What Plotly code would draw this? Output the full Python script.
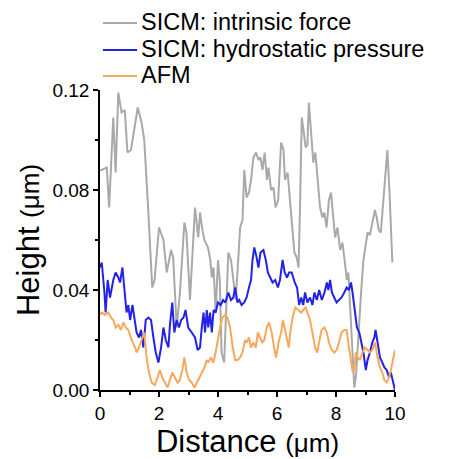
import plotly.graph_objects as go

# ---------------- data ----------------
gray_x = [0.0, 0.06, 0.23, 0.31, 0.45, 0.53, 0.62, 0.73, 0.84, 0.93, 1.05, 1.28, 1.41, 1.50, 1.64, 1.77, 1.85,
          2.0, 2.15, 2.26, 2.41, 2.48, 2.6, 2.71, 2.86, 2.93, 3.05, 3.13, 3.22, 3.33, 3.39, 3.47, 3.54, 3.66,
          3.74, 3.79, 3.85, 3.92, 4.0, 4.06, 4.12, 4.21, 4.29, 4.35, 4.44, 4.52, 4.6, 4.67, 4.75, 4.83, 4.89,
          4.97, 5.05, 5.12, 5.2, 5.29, 5.37, 5.44, 5.51, 5.58, 5.66, 5.71, 5.8, 5.88, 5.95, 6.04, 6.14, 6.22,
          6.27, 6.36, 6.44, 6.5, 6.59, 6.67, 6.73, 6.78, 6.84, 6.93, 6.97, 7.03, 7.08, 7.15, 7.23, 7.3, 7.38,
          7.46, 7.54, 7.6, 7.68, 7.76, 7.83, 7.9, 7.97, 8.05, 8.14, 8.22, 8.31, 8.37, 8.42, 8.47, 8.56, 8.62,
          8.68, 8.76, 8.85, 8.93, 9.0, 9.07, 9.15, 9.23, 9.32, 9.38, 9.45, 9.52, 9.6, 9.68, 9.74, 9.81, 9.86,
          9.91]
gray_y = [0.088, 0.088, 0.089, 0.073, 0.109, 0.087, 0.119, 0.111, 0.112, 0.095, 0.096, 0.113, 0.107, 0.100,
          0.071, 0.041, 0.044, 0.065, 0.060, 0.047, 0.056, 0.053, 0.025, 0.039, 0.067, 0.063, 0.036, 0.053,
          0.073, 0.061, 0.071, 0.064, 0.060, 0.057, 0.052, 0.045, 0.049, 0.031, 0.052, 0.044, 0.015, 0.011,
          0.039, 0.055, 0.052, 0.043, 0.036, 0.049, 0.065, 0.068, 0.088, 0.077, 0.079, 0.084, 0.093, 0.095,
          0.092, 0.093, 0.088, 0.095, 0.084, 0.089, 0.080, 0.081, 0.073, 0.076, 0.099, 0.096, 0.084, 0.087,
          0.076, 0.067, 0.055, 0.053, 0.049, 0.073, 0.109, 0.101, 0.097, 0.098, 0.115, 0.104, 0.091, 0.095,
          0.084, 0.073, 0.069, 0.071, 0.065, 0.076, 0.079, 0.068, 0.061, 0.065, 0.056, 0.059, 0.049, 0.044,
          0.047, 0.036, 0.018, 0.001, 0.006, 0.023, 0.039, 0.052, 0.057, 0.063, 0.062, 0.067, 0.072, 0.069,
          0.064, 0.063, 0.075, 0.084, 0.096, 0.080, 0.064, 0.051]

blue_x = [0.0, 0.06, 0.15, 0.19, 0.26, 0.34, 0.45, 0.53, 0.62, 0.68, 0.76, 0.83, 0.90, 0.96, 1.02, 1.1, 1.17,
          1.24, 1.32, 1.39, 1.47, 1.55, 1.64, 1.73, 1.81, 1.89, 1.98, 2.07, 2.15, 2.23, 2.32, 2.37, 2.45, 2.52,
          2.6, 2.68, 2.75, 2.83, 2.9, 2.99, 3.11, 3.22, 3.31, 3.39, 3.45, 3.51, 3.56, 3.62, 3.67, 3.73, 3.79,
          3.85, 3.92, 4.0, 4.09, 4.17, 4.25, 4.35, 4.44, 4.52, 4.58, 4.66, 4.72, 4.8, 4.89, 4.97, 5.05, 5.12,
          5.17, 5.23, 5.31, 5.37, 5.44, 5.54, 5.62, 5.69, 5.77, 5.85, 5.94, 6.03, 6.1, 6.19, 6.26, 6.34, 6.41,
          6.5, 6.6, 6.68, 6.75, 6.82, 6.89, 6.95, 7.03, 7.12, 7.2, 7.27, 7.35, 7.43, 7.52, 7.61, 7.69, 7.74,
          7.8, 7.86, 7.94, 8.02, 8.1, 8.19, 8.28, 8.36, 8.44, 8.51, 8.56, 8.63, 8.71, 8.79, 8.86, 8.93, 9.01,
          9.07, 9.15, 9.23, 9.3, 9.34, 9.41, 9.49, 9.57, 9.64, 9.72, 9.8, 9.86, 9.94, 10.0]
blue_y = [0.049, 0.051, 0.039, 0.031, 0.044, 0.037, 0.044, 0.047, 0.045, 0.043, 0.049, 0.041, 0.031, 0.034,
          0.028, 0.034, 0.029, 0.023, 0.021, 0.024, 0.017, 0.028, 0.029, 0.028, 0.021, 0.015, 0.011, 0.017,
          0.025, 0.020, 0.017, 0.026, 0.035, 0.023, 0.028, 0.025, 0.028, 0.029, 0.032, 0.025, 0.023, 0.021,
          0.016, 0.017, 0.025, 0.031, 0.023, 0.032, 0.025, 0.031, 0.023, 0.032, 0.031, 0.035, 0.034, 0.036,
          0.035, 0.039, 0.036, 0.037, 0.041, 0.035, 0.036, 0.034, 0.035, 0.037, 0.041, 0.044, 0.052, 0.057,
          0.053, 0.049, 0.055, 0.056, 0.052, 0.047, 0.045, 0.043, 0.044, 0.041, 0.044, 0.052, 0.047, 0.045,
          0.047, 0.047, 0.043, 0.041, 0.034, 0.037, 0.034, 0.039, 0.035, 0.037, 0.034, 0.039, 0.036, 0.040,
          0.036, 0.039, 0.043, 0.040, 0.044, 0.039, 0.037, 0.035, 0.036, 0.037, 0.039, 0.041, 0.040, 0.043,
          0.039, 0.032, 0.025, 0.023, 0.019, 0.015, 0.008, 0.012, 0.015, 0.019, 0.021, 0.024, 0.019, 0.013,
          0.011, 0.009, 0.008, 0.005, 0.007, 0.003, 0.000]

afm_x = [0.0, 0.06, 0.17, 0.28, 0.37, 0.45, 0.53, 0.62, 0.71, 0.79, 0.87, 0.96, 1.07, 1.19, 1.24, 1.32, 1.41,
         1.50, 1.58, 1.66, 1.75, 1.86, 1.95, 2.03, 2.11, 2.2, 2.29, 2.37, 2.45, 2.54, 2.63, 2.71, 2.79, 2.86,
         2.94, 3.02, 3.11, 3.2, 3.28, 3.36, 3.45, 3.54, 3.62, 3.67, 3.76, 3.84, 3.92, 3.99, 4.07, 4.15, 4.24,
         4.32, 4.41, 4.5, 4.58, 4.67, 4.75, 4.83, 4.92, 4.97, 5.05, 5.12, 5.2, 5.28, 5.35, 5.42, 5.5, 5.57,
         5.65, 5.73, 5.82, 5.9, 5.97, 6.05, 6.14, 6.2, 6.26, 6.34, 6.4, 6.45, 6.53, 6.62, 6.72, 6.82, 6.89,
         6.97, 7.03, 7.12, 7.2, 7.29, 7.36, 7.43, 7.51, 7.61, 7.69, 7.76, 7.86, 7.94, 8.02, 8.1, 8.19, 8.28,
         8.36, 8.44, 8.51, 8.57, 8.63, 8.67, 8.74, 8.81, 8.9, 8.98, 9.07, 9.15, 9.23, 9.32, 9.41, 9.49, 9.57,
         9.64, 9.72, 9.8, 9.86, 9.94, 10.0]
afm_y = [0.030, 0.031, 0.030, 0.031, 0.029, 0.028, 0.025, 0.026, 0.024, 0.027, 0.025, 0.024, 0.020, 0.017,
         0.015, 0.017, 0.020, 0.023, 0.013, 0.007, 0.003, 0.002, 0.005, 0.008, 0.005, 0.003, 0.001, 0.004,
         0.007, 0.005, 0.003, 0.004, 0.008, 0.013, 0.007, 0.004, 0.003, 0.001, 0.003, 0.005, 0.007, 0.009,
         0.012, 0.011, 0.013, 0.011, 0.015, 0.020, 0.025, 0.029, 0.030, 0.029, 0.025, 0.017, 0.012, 0.012,
         0.013, 0.015, 0.020, 0.019, 0.021, 0.017, 0.019, 0.017, 0.023, 0.021, 0.019, 0.020, 0.025, 0.027,
         0.023, 0.017, 0.013, 0.019, 0.023, 0.028, 0.025, 0.020, 0.017, 0.023, 0.029, 0.033, 0.032, 0.031,
         0.032, 0.033, 0.031, 0.028, 0.023, 0.017, 0.015, 0.019, 0.024, 0.025, 0.023, 0.019, 0.016, 0.015,
         0.016, 0.019, 0.023, 0.024, 0.024, 0.017, 0.011, 0.007, 0.009, 0.015, 0.013, 0.012, 0.015, 0.017,
         0.016, 0.015, 0.016, 0.019, 0.013, 0.009, 0.007, 0.004, 0.003, 0.005, 0.008, 0.012, 0.016]

series_names = ["SICM: intrinsic force", "SICM: hydrostatic pressure", "AFM"]
series_colors = ["#a9a9a9", "#2323e8", "#f7a85c"]
x_ticks = [0, 2, 4, 6, 8, 10]
x_minor = [1, 3, 5, 7, 9]
y_ticks = [0.00, 0.04, 0.08, 0.12]
y_minor = [0.02, 0.06, 0.10]
y_tick_labels = ["0.00", "0.04", "0.08", "0.12"]

FONT = "Arial, 'Liberation Sans', sans-serif"

# The page body has an 8px margin, so the figure is drawn 8px in from the window edge.
OFF = 8
W, H = 450 - OFF, 459 - OFF
# target plot area on screen: x 100..395 px, y 90..390 px
L, T = 100 - OFF, 90 - OFF
PW, PH = 295, 300
R, B = W - L - PW, H - T - PH


def px_x(p):  # screen px -> paper x
    return (p - OFF - L) / PW


def px_y(p):  # screen px -> paper y
    return (T + PH - (p - OFF)) / PH


fig = go.Figure()
for xs, ys, name, col in [(gray_x, gray_y, series_names[0], series_colors[0]),
                          (blue_x, blue_y, series_names[1], series_colors[1]),
                          (afm_x, afm_y, series_names[2], series_colors[2])]:
    fig.add_trace(go.Scatter(x=xs, y=ys, mode="lines", name=name, showlegend=False,
                             line=dict(color=col, width=2)))

# legend (line sample + text) positioned as in the reference
legend_rows = [23, 50, 76]
for name, col, ry in zip(series_names, series_colors, legend_rows):
    fig.add_shape(type="line", xref="paper", yref="paper",
                  x0=px_x(103), x1=px_x(137), y0=px_y(ry), y1=px_y(ry),
                  line=dict(color=col, width=2))
    fig.add_annotation(xref="paper", yref="paper", x=px_x(140), y=px_y(ry - 1),
                       xanchor="left", yanchor="middle", showarrow=False, borderpad=0,
                       text=name, font=dict(size=23.5, family=FONT, color="black"))

fig.update_layout(
    width=W, height=H,
    margin=dict(l=L, r=R, t=T, b=B, autoexpand=False),
    paper_bgcolor="white", plot_bgcolor="white",
    font=dict(family=FONT, color="black"),
    showlegend=False,
)
fig.update_xaxes(
    range=[0, 10], tickvals=x_ticks, ticktext=[str(v) for v in x_ticks],
    showgrid=False, zeroline=False, showline=True, linecolor="black", linewidth=1.5,
    ticks="outside", ticklen=5, tickwidth=1.5, tickcolor="black",
    tickfont=dict(size=19, family=FONT), automargin=False,
    minor=dict(tickvals=x_minor, ticks="outside", ticklen=3, tickwidth=1.5, tickcolor="black"),
    title=dict(text="Distance <span style='font-size:26px'>(\u03bcm)</span>",
               font=dict(size=31, family=FONT), standoff=4),
)
fig.update_yaxes(
    range=[0, 0.12], tickvals=y_ticks, ticktext=y_tick_labels,
    showgrid=False, zeroline=False, showline=True, linecolor="black", linewidth=1.5,
    ticks="outside", ticklen=5, tickwidth=1.5, tickcolor="black",
    tickfont=dict(size=19, family=FONT), automargin=False,
    minor=dict(tickvals=y_minor, ticks="outside", ticklen=3, tickwidth=1.5, tickcolor="black"),
    title=dict(text="Height <span style='font-size:26px'>(\u03bcm)</span>",
               font=dict(size=31, family=FONT), standoff=4),
)

fig.write_html("out.html")
